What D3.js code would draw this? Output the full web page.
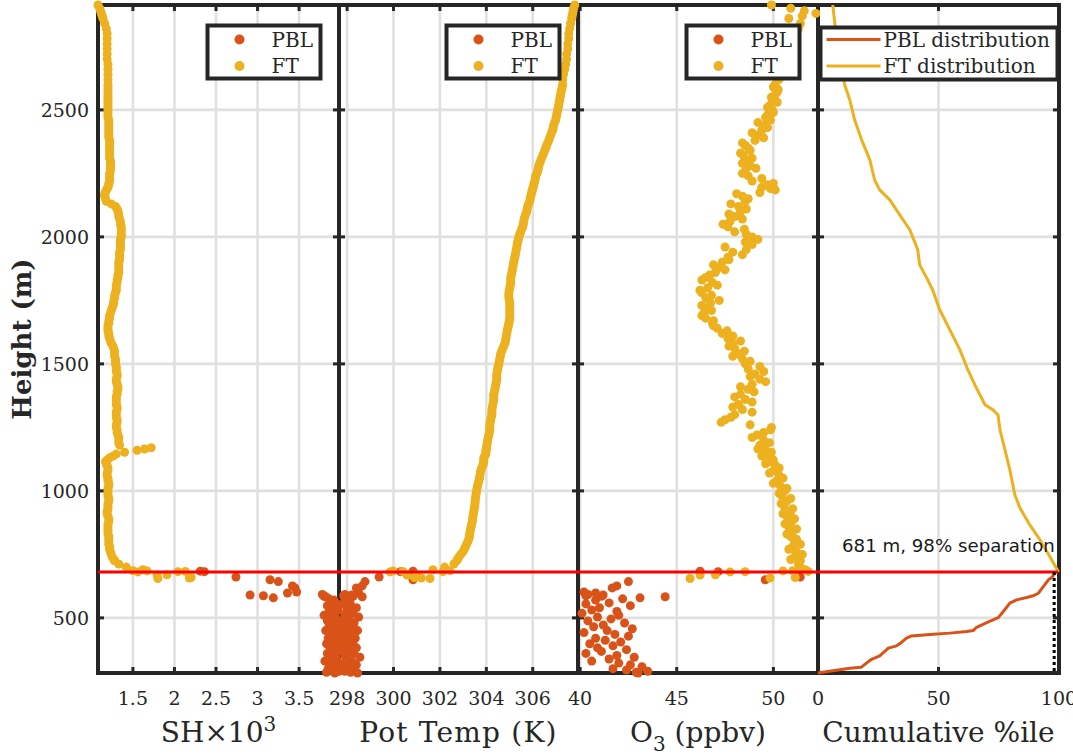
<!DOCTYPE html>
<html>
<head>
<meta charset="utf-8">
<script src="https://cdn.jsdelivr.net/npm/d3@7"></script>
<style>
  html, body { margin: 0; padding: 0; background: #fff; }
  svg { display: block; }
</style>
</head>
<body>
<svg id="chart" width="1073" height="756"></svg>
<script>
// ---- Sounding profile, first leg: free troposphere (FT) samples ----
const ftHeight = [
  655, 657, 659, 669, 670, 681, 682, 683, 685, 686,
  690, 700, 712, 725, 740, 760, 780, 800, 820, 840,
  860, 880, 900, 920, 940, 960, 980, 1000, 1020, 1040,
  1060, 1080, 1100, 1115, 1130, 1145, 1160, 1170, 1180, 1200,
  1220, 1240, 1260, 1280, 1300, 1320, 1340, 1360, 1380, 1400,
  1420, 1440, 1460, 1480, 1500, 1520, 1540, 1560, 1580, 1600,
  1620, 1640, 1660, 1680, 1700, 1720, 1740, 1760, 1780, 1800,
  1820, 1840, 1860, 1880, 1900, 1920, 1940, 1960, 1980, 2000,
  2020, 2040, 2060, 2080, 2100, 2120, 2140, 2160, 2175, 2190,
  2205, 2220, 2240, 2260, 2280, 2300, 2320, 2340, 2360, 2380,
  2400, 2420, 2440, 2460, 2480, 2500, 2520, 2540, 2560, 2580,
  2600, 2620, 2640, 2660, 2680, 2700, 2720, 2740, 2760, 2780,
  2800, 2820, 2840, 2860, 2870, 2880, 2890, 2900, 2913
];
const ftSH = [
  1.80, 2.18, 2.20, 1.79, 1.91, 1.56, 2.04, 2.13, 1.67, 1.50,
  1.62, 1.42, 1.33, 1.28, 1.25, 1.23, 1.22, 1.21, 1.21, 1.20,
  1.20, 1.21, 1.20, 1.19, 1.20, 1.21, 1.20, 1.20, 1.21, 1.20,
  1.19, 1.20, 1.19, 1.17, 1.22, 1.30, 1.55, 1.72, 1.34, 1.33,
  1.32, 1.31, 1.30, 1.31, 1.30, 1.31, 1.30, 1.30, 1.31, 1.32,
  1.31, 1.30, 1.31, 1.30, 1.29, 1.29, 1.28, 1.27, 1.24, 1.22,
  1.21, 1.20, 1.21, 1.22, 1.23, 1.25, 1.27, 1.28, 1.29, 1.30,
  1.31, 1.32, 1.33, 1.33, 1.33, 1.34, 1.34, 1.35, 1.35, 1.36,
  1.36, 1.36, 1.35, 1.33, 1.32, 1.29, 1.18, 1.16, 1.17, 1.19,
  1.21, 1.22, 1.22, 1.23, 1.23, 1.23, 1.22, 1.22, 1.22, 1.22,
  1.21, 1.21, 1.21, 1.21, 1.20, 1.20, 1.20, 1.20, 1.20, 1.20,
  1.20, 1.20, 1.20, 1.20, 1.20, 1.19, 1.19, 1.19, 1.19, 1.19,
  1.19, 1.18, 1.16, 1.14, 1.13, 1.12, 1.11, 1.10, 1.08
];
const ftTheta = [
  301.57, 301.20, 300.90, 300.58, 301.00, 299.85, 302.13, 300.40, 299.98, 302.43,
  301.70, 302.20, 302.60, 302.72, 302.82, 302.99, 303.10, 303.20, 303.27, 303.30,
  303.35, 303.40, 303.42, 303.46, 303.50, 303.52, 303.55, 303.58, 303.62, 303.68,
  303.72, 303.76, 303.85, 303.89, 303.89, 303.98, 303.98, 304.02, 304.02, 304.06,
  304.11, 304.15, 304.15, 304.19, 304.24, 304.24, 304.28, 304.32, 304.32, 304.37,
  304.41, 304.45, 304.45, 304.49, 304.54, 304.58, 304.62, 304.71, 304.80, 304.84,
  304.88, 304.92, 304.97, 305.01, 305.01, 305.01, 305.01, 304.97, 304.97, 305.01,
  305.05, 305.05, 305.10, 305.14, 305.18, 305.23, 305.27, 305.31, 305.35, 305.40,
  305.48, 305.57, 305.61, 305.66, 305.74, 305.78, 305.87, 305.91, 305.96, 306.00,
  306.04, 306.09, 306.13, 306.22, 306.26, 306.34, 306.43, 306.52, 306.60, 306.69,
  306.77, 306.86, 306.90, 306.99, 307.03, 307.08, 307.12, 307.16, 307.20, 307.25,
  307.29, 307.29, 307.33, 307.38, 307.42, 307.46, 307.46, 307.51, 307.51, 307.55,
  307.55, 307.59, 307.63, 307.68, 307.70, 307.72, 307.74, 307.76, 307.81
];
const ftO3 = [
  45.69, 49.83, 51.13, 46.21, 47.00, 47.76, 48.54, 51.80, 50.50, 51.00,
  51.65, 51.39, 51.30, 51.40, 51.10, 51.20, 51.00, 51.10, 50.90, 51.00,
  50.80, 50.95, 50.70, 50.90, 50.55, 50.70, 50.45, 50.60, 50.35, 50.20,
  50.30, 50.00, 50.10, 49.85, 49.60, 49.70, 49.40, 49.55, 49.30, 49.50,
  49.15, 49.85, 48.80, 47.50, 48.00, 48.40, 48.20, 48.55, 48.30, 48.70,
  48.90, 49.30, 49.05, 48.70, 48.55, 48.40, 48.20, 48.00, 47.90, 47.65,
  47.35, 47.10, 46.85, 46.50, 46.40, 46.60, 46.75, 46.50, 46.30, 46.60,
  46.85, 46.50, 47.00, 47.25, 47.35, 47.65, 47.90, 47.50, 48.55, 48.90,
  48.00, 47.65, 47.75, 48.00, 48.30, 48.20, 48.55, 48.40, 49.30, 49.85,
  49.70, 48.90, 48.70, 48.55, 48.80, 48.65, 48.45, 48.80, 48.55, 49.05,
  49.20, 49.40, 49.55, 49.85, 49.70, 49.95, 49.85, 50.05, 50.10, 50.25,
  50.10, 50.30, 50.40, 50.50, 50.60, 50.70, 50.80, 50.90, 51.00, 51.10,
  51.20, 51.30, 51.40, 50.80, 51.50, 52.20, 51.60, 50.90, 49.90
];

// ---- Sounding profile, second leg: free troposphere (FT) samples ----
const ft2Height = [
  730, 750, 770, 790, 810, 830, 850, 870, 890, 910,
  930, 950, 970, 990, 1010, 1030, 1050, 1070, 1090, 1107,
  1122, 1137, 1152, 1165, 1190, 1210, 1230, 1250, 1270, 1290,
  1310, 1330, 1350, 1370, 1390, 1410, 1430, 1450, 1470, 1490,
  1510, 1530, 1550, 1570, 1590, 1610, 1630, 1650, 1670, 1690,
  1710, 1730, 1750, 1770, 1790, 1810, 1830, 1850, 1870, 1890,
  1910, 1930, 1950, 1970, 1990, 2010, 2030, 2050, 2070, 2090,
  2110, 2130, 2150, 2170, 2185, 2195, 2210, 2230, 2250, 2270,
  2290, 2310, 2330, 2350, 2370, 2390, 2410, 2430, 2450, 2470,
  2490, 2510, 2530, 2550, 2570, 2590
];
const ft2SH = [
  1.27, 1.24, 1.22, 1.21, 1.21, 1.20, 1.20, 1.20, 1.21, 1.19,
  1.20, 1.20, 1.21, 1.20, 1.20, 1.21, 1.20, 1.19, 1.20, 1.18,
  1.19, 1.26, 1.40, 1.64, 1.33, 1.33, 1.31, 1.30, 1.31, 1.30,
  1.30, 1.31, 1.30, 1.30, 1.31, 1.32, 1.30, 1.31, 1.30, 1.30,
  1.29, 1.28, 1.28, 1.26, 1.23, 1.21, 1.20, 1.20, 1.21, 1.22,
  1.24, 1.26, 1.27, 1.28, 1.30, 1.30, 1.31, 1.32, 1.33, 1.33,
  1.34, 1.34, 1.35, 1.35, 1.35, 1.36, 1.36, 1.35, 1.34, 1.33,
  1.31, 1.24, 1.17, 1.16, 1.18, 1.20, 1.21, 1.22, 1.22, 1.23,
  1.23, 1.22, 1.22, 1.22, 1.22, 1.21, 1.21, 1.21, 1.21, 1.20,
  1.20, 1.20, 1.20, 1.20, 1.20, 1.20
];
const ft2Theta = [
  302.76, 302.90, 303.05, 303.15, 303.24, 303.28, 303.32, 303.37, 303.41, 303.44,
  303.48, 303.51, 303.53, 303.56, 303.60, 303.65, 303.70, 303.74, 303.80, 303.87,
  303.89, 303.93, 303.98, 304.00, 304.04, 304.08, 304.13, 304.15, 304.17, 304.21,
  304.24, 304.26, 304.30, 304.32, 304.35, 304.39, 304.43, 304.45, 304.47, 304.51,
  304.56, 304.60, 304.66, 304.75, 304.82, 304.86, 304.90, 304.95, 304.99, 305.01,
  305.01, 305.01, 304.99, 304.97, 304.99, 305.03, 305.05, 305.08, 305.12, 305.16,
  305.20, 305.25, 305.29, 305.33, 305.38, 305.44, 305.52, 305.59, 305.63, 305.70,
  305.76, 305.82, 305.89, 305.94, 305.98, 306.02, 306.06, 306.11, 306.18, 306.24,
  306.30, 306.38, 306.47, 306.56, 306.64, 306.73, 306.81, 306.88, 306.94, 307.01,
  307.05, 307.10, 307.14, 307.18, 307.22, 307.27
];
const ft2O3 = [
  50.90, 51.50, 50.80, 51.40, 51.20, 50.70, 51.20, 50.60, 51.10, 50.50,
  51.00, 50.40, 50.90, 50.30, 50.70, 50.00, 50.50, 49.80, 50.30, 49.60,
  50.00, 49.40, 49.90, 49.20, 49.80, 48.90, 49.50, 49.90, 47.30, 47.80,
  48.90, 47.90, 48.90, 48.00, 49.00, 48.30, 49.60, 48.80, 49.50, 49.30,
  48.80, 47.90, 48.50, 47.70, 48.30, 47.90, 47.60, 46.90, 46.90, 46.30,
  46.80, 46.30, 47.20, 46.80, 46.20, 47.10, 46.30, 46.70, 47.50, 46.90,
  47.70, 48.40, 48.60, 48.90, 49.20, 48.60, 48.50, 47.40, 48.40, 47.70,
  48.60, 47.80, 48.70, 48.10, 50.10, 49.40, 50.00, 49.40, 48.40, 49.10,
  48.40, 48.90, 48.30, 48.70, 48.40, 49.50, 48.90, 49.70, 49.20, 49.60,
  50.00, 49.70, 50.20, 49.90, 50.20, 50.00
];

// ---- Sounding profile: planetary boundary layer (PBL) samples ----
const pblHeight = [
  283, 286, 290, 295, 300, 308, 315, 322, 330, 338,
  345, 352, 360, 368, 375, 382, 390, 398, 405, 412,
  420, 428, 435, 442, 450, 457, 465, 472, 480, 488,
  496, 503, 510, 518, 525, 531, 540, 548, 555, 559,
  570, 575, 579, 583, 585, 587, 590, 592, 598, 602,
  618, 626, 643, 650, 661, 682, 684
];
const pblSH = [
  3.93, 3.83, 3.98, 3.91, 3.85, 3.96, 3.87, 3.93, 3.81, 3.95,
  3.88, 3.92, 3.84, 3.97, 3.91, 3.87, 3.94, 3.83, 3.89, 3.98,
  3.85, 3.93, 3.88, 3.96, 3.82, 3.92, 3.86, 3.97, 3.91, 3.84,
  3.95, 3.89, 3.80, 3.93, 3.86, 3.97, 3.90, 3.84, 3.95, 3.88,
  3.92, 3.86, 3.19, 3.82, 3.80, 3.07, 2.91, 3.78, 3.36, 3.47,
  3.45, 3.42, 3.25, 3.15, 2.74, 2.36, 2.31
];
const pblTheta = [
  298.45, 298.15, 297.90, 298.30, 297.75, 298.05, 298.40, 297.85, 298.20, 298.00,
  298.55, 297.90, 298.30, 298.10, 297.80, 298.40, 297.95, 298.25, 297.75, 298.05,
  298.35, 297.85, 298.15, 298.00, 298.45, 297.70, 298.20, 297.95, 298.30, 297.80,
  298.10, 298.50, 297.90, 298.25, 298.00, 298.00, 298.40, 298.10, 297.80, 298.13,
  298.05, 297.95, 298.10, 298.65, 298.26, 297.85, 298.20, 297.90, 298.48, 298.48,
  298.40, 298.65, 298.77, 300.84, 299.38, 300.30, 300.84
];
const pblO3 = [
  43.0, 42.9, 43.5, 42.4, 41.7, 43.2, 42.6, 42.0, 40.6, 41.5,
  42.8, 41.9, 40.3, 41.1, 42.4, 40.9, 41.7, 40.5, 42.1, 41.3,
  40.8, 42.5, 41.8, 40.2, 41.4, 42.7, 40.7, 41.2, 42.3, 40.4,
  41.6, 40.9, 42.0, 40.1, 41.9, 40.6, 41.0, 42.6, 40.3, 41.5,
  40.8, 42.2, 43.1, 44.4, 41.1, 40.3, 41.19, 40.4, 40.8, 40.2,
  41.66, 41.9, 42.5, 49.58, 51.39, 47.14, 46.21
];

// ---- Cumulative distributions (percentile vs height) ----
const cumPblPct = [
  0, 6.2, 13.2, 18.0, 20.1, 22.2, 25.6, 29.2, 32.6, 33.9,
  36.7, 38.8, 47.8, 54.7, 61.7, 64.4, 65.8, 70.0, 74.8, 76.9,
  79.6, 82.4, 86.6, 89.3, 91.4, 93.5, 95.6, 97.0, 98.3, 98.5
];
const cumPblHeight = [
  283, 292, 302, 306, 322, 337, 350, 381, 390, 398,
  420, 429, 436, 440, 446, 450, 463, 481, 501, 525,
  558, 571, 580, 587, 597, 623, 650, 659, 676, 681
];
const cumFtPct = [
  99.8, 96.3, 92.1, 87.9, 83.8, 81.7, 79.6, 77.6, 75.5, 74.7,
  72.6, 69.3, 67.2, 65.1, 62.2, 58.9, 54.7, 50.5, 47.6, 45.5,
  42.2, 41.4, 38.1, 33.9, 29.8, 25.6, 23.5, 21.5, 18.1, 15.2,
  13.2, 11.1, 9.0, 7.3, 6.1
];
const cumFtHeight = [
  681, 740, 807, 866, 933, 984, 1083, 1161, 1240, 1299,
  1319, 1339, 1378, 1417, 1476, 1555, 1634, 1713, 1791, 1831,
  1890, 1949, 2028, 2087, 2146, 2185, 2224, 2303, 2382, 2461,
  2539, 2598, 2697, 2815, 2913
];

// ---- Separation result ----
const separationHeight = 681;
const separationPct = 98;
const separationLabel = "681 m, 98% separation";

// ---- Axis ticks and labels ----
const heightTicks = [500, 1000, 1500, 2000, 2500];
const shTicks = [1.5, 2, 2.5, 3, 3.5];
const thetaTicks = [298, 300, 302, 304, 306];
const o3Ticks = [40, 45, 50];
const pctTicks = [0, 50, 100];
const scatterLegend = ["PBL", "FT"];
const lineLegend = ["PBL distribution", "FT distribution"];

// ---- Styling ----
const frameColor = "#262626";
const gridColor = "#e0e0e0";
const pblColor = "#D95319";
const ftColor = "#EDB120";
const serif = "'DejaVu Serif', serif";
const sans = "'DejaVu Sans', sans-serif";

const svg = d3.select("#chart");
const yTop = 5, yBottom = 673;
const y = d3.scaleLinear().domain([283, 2913]).range([yBottom, yTop]);

const allFtHeight = ftHeight.concat(ft2Height);
const panels = [
  { left: 98,  right: 339,  domain: [1.08, 3.98],     ticks: shTicks,    pbl: pblSH,    ft: ftSH.concat(ft2SH) },
  { left: 339, right: 578,  domain: [297.65, 307.95], ticks: thetaTicks, pbl: pblTheta, ft: ftTheta.concat(ft2Theta) },
  { left: 578, right: 818,  domain: [39.89, 52.31],   ticks: o3Ticks,    pbl: pblO3,    ft: ftO3.concat(ft2O3) },
  { left: 818, right: 1059, domain: [0, 100],         ticks: pctTicks }
];
panels.forEach(p => { p.x = d3.scaleLinear().domain(p.domain).range([p.left, p.right]); });

const gFrames = svg.append("g");
const gData = svg.append("g");
const gOver = svg.append("g");

// grid, box and inward ticks for each panel
panels.forEach(p => {
  const g = gFrames.append("g");
  g.selectAll("line.vg").data(p.ticks).join("line")
    .attr("x1", d => p.x(d)).attr("x2", d => p.x(d))
    .attr("y1", yTop).attr("y2", yBottom)
    .attr("stroke", gridColor).attr("stroke-width", 2.6);
  g.selectAll("line.hg").data(heightTicks).join("line")
    .attr("x1", p.left).attr("x2", p.right)
    .attr("y1", d => y(d)).attr("y2", d => y(d))
    .attr("stroke", gridColor).attr("stroke-width", 2.6);

  g.append("rect")
    .attr("x", p.left).attr("y", yTop)
    .attr("width", p.right - p.left).attr("height", yBottom - yTop)
    .attr("fill", "none").attr("stroke", frameColor).attr("stroke-width", 4);

  const tl = 6;
  g.append("g").selectAll("line").data(p.ticks).join("line")
    .attr("x1", d => p.x(d)).attr("x2", d => p.x(d))
    .attr("y1", yBottom).attr("y2", yBottom - tl)
    .attr("stroke", frameColor).attr("stroke-width", 3);
  g.append("g").selectAll("line").data(p.ticks).join("line")
    .attr("x1", d => p.x(d)).attr("x2", d => p.x(d))
    .attr("y1", yTop).attr("y2", yTop + tl)
    .attr("stroke", frameColor).attr("stroke-width", 3);
  g.append("g").selectAll("line").data(heightTicks).join("line")
    .attr("x1", p.left).attr("x2", p.left + tl)
    .attr("y1", d => y(d)).attr("y2", d => y(d))
    .attr("stroke", frameColor).attr("stroke-width", 3);
  g.append("g").selectAll("line").data(heightTicks).join("line")
    .attr("x1", p.right).attr("x2", p.right - tl)
    .attr("y1", d => y(d)).attr("y2", d => y(d))
    .attr("stroke", frameColor).attr("stroke-width", 3);

  svg.append("g").selectAll("text").data(p.ticks).join("text")
    .attr("x", d => p.x(d)).attr("y", 705)
    .attr("text-anchor", "middle")
    .attr("font-family", serif).attr("font-size", 19)
    .attr("fill", frameColor)
    .text(d => String(d));
});

// height tick labels
svg.append("g").selectAll("text").data(heightTicks).join("text")
  .attr("x", 89).attr("y", d => y(d)).attr("dy", "0.36em")
  .attr("text-anchor", "end")
  .attr("font-family", serif).attr("font-size", 19)
  .attr("fill", frameColor)
  .text(d => String(d));

// scatter profiles: PBL first, FT on top
panels.slice(0, 3).forEach(p => {
  gData.append("g").selectAll("circle").data(pblHeight.map((h, i) => [h, p.pbl[i]])).join("circle")
    .attr("cx", d => p.x(d[1])).attr("cy", d => y(d[0])).attr("r", 4.5)
    .attr("fill", pblColor);
  gData.append("g").selectAll("circle").data(allFtHeight.map((h, i) => [h, p.ft[i]])).join("circle")
    .attr("cx", d => p.x(d[1])).attr("cy", d => y(d[0])).attr("r", 4.5)
    .attr("fill", ftColor);
});

// cumulative distribution lines
const pc = panels[3];
const cumLine = d3.line().x(d => pc.x(d[0])).y(d => y(d[1]));
gData.append("path")
  .datum(cumPblPct.map((v, i) => [v, cumPblHeight[i]]))
  .attr("d", cumLine).attr("fill", "none")
  .attr("stroke", pblColor).attr("stroke-width", 3).attr("stroke-linejoin", "round");
gData.append("path")
  .datum(cumFtPct.map((v, i) => [v, cumFtHeight[i]]))
  .attr("d", cumLine).attr("fill", "none")
  .attr("stroke", ftColor).attr("stroke-width", 3).attr("stroke-linejoin", "round");

// separation height across all panels
gOver.append("line")
  .attr("x1", panels[0].left).attr("x2", pc.x(100) - 1)
  .attr("y1", y(separationHeight)).attr("y2", y(separationHeight))
  .attr("stroke", "#ff0000").attr("stroke-width", 3);

// separation percentile marker
gOver.append("line")
  .attr("x1", pc.x(separationPct)).attr("x2", pc.x(separationPct))
  .attr("y1", y(separationHeight)).attr("y2", yBottom)
  .attr("stroke", "#000").attr("stroke-width", 3)
  .attr("stroke-dasharray", "3,3");

gOver.append("text")
  .attr("x", 842).attr("y", 552)
  .attr("font-family", sans).attr("font-size", 18.2)
  .attr("fill", "#1a1a1a")
  .text(separationLabel);

// scatter legends
panels.slice(0, 3).forEach(p => {
  const bx = p.right - 18.5 - 113, by = 25.5;
  const g = gOver.append("g");
  g.append("rect").attr("x", bx).attr("y", by).attr("width", 113).attr("height", 53)
    .attr("fill", "#fff").attr("stroke", frameColor).attr("stroke-width", 4);
  [pblColor, ftColor].forEach((c, i) => {
    const ly = by + 14 + i * 26.5;
    g.append("circle").attr("cx", bx + 32).attr("cy", ly).attr("r", 5).attr("fill", c);
    g.append("text").attr("x", bx + 64).attr("y", ly).attr("dy", "0.36em")
      .attr("font-family", serif).attr("font-size", 20).attr("fill", frameColor)
      .text(scatterLegend[i]);
  });
});

// line legend
{
  const bx = 820.5, by = 27.5, bw = 237, bh = 52;
  const g = gOver.append("g");
  g.append("rect").attr("x", bx).attr("y", by).attr("width", bw).attr("height", bh)
    .attr("fill", "#fff").attr("stroke", frameColor).attr("stroke-width", 4);
  [pblColor, ftColor].forEach((c, i) => {
    const ly = by + 12 + i * 26.5;
    g.append("line").attr("x1", bx + 6).attr("x2", bx + 60).attr("y1", ly).attr("y2", ly)
      .attr("stroke", c).attr("stroke-width", 3);
    g.append("text").attr("x", bx + 63).attr("y", ly).attr("dy", "0.36em")
      .attr("font-family", serif).attr("font-size", 20).attr("fill", frameColor)
      .text(lineLegend[i]);
  });
}

// axis titles
const xTitleY = 742;
const t1 = svg.append("text").attr("x", (panels[0].left + panels[0].right) / 2).attr("y", xTitleY)
  .attr("text-anchor", "middle").attr("font-family", serif).attr("font-size", 28).attr("fill", frameColor);
t1.append("tspan").text("SH×10");
t1.append("tspan").attr("dy", -11).attr("font-size", 20).text("3");

svg.append("text").attr("x", (panels[1].left + panels[1].right) / 2).attr("y", xTitleY)
  .attr("text-anchor", "middle").attr("font-family", serif).attr("font-size", 28).attr("fill", frameColor)
  .attr("letter-spacing", 1.2)
  .text("Pot Temp (K)");

const t3 = svg.append("text").attr("x", (panels[2].left + panels[2].right) / 2).attr("y", xTitleY)
  .attr("text-anchor", "middle").attr("font-family", serif).attr("font-size", 28).attr("fill", frameColor);
t3.append("tspan").text("O");
t3.append("tspan").attr("dy", 9).attr("font-size", 20).text("3");
t3.append("tspan").attr("dy", -9).text(" (ppbv)");

svg.append("text").attr("x", (panels[3].left + panels[3].right) / 2).attr("y", xTitleY)
  .attr("text-anchor", "middle").attr("font-family", serif).attr("font-size", 28).attr("fill", frameColor)
  .text("Cumulative %ile");

svg.append("text")
  .attr("transform", `translate(31, ${(yTop + yBottom) / 2}) rotate(-90)`)
  .attr("text-anchor", "middle").attr("font-family", serif).attr("font-size", 26)
  .attr("font-weight", "bold").attr("fill", frameColor)
  .text("Height (m)");
</script>
</body>
</html>
